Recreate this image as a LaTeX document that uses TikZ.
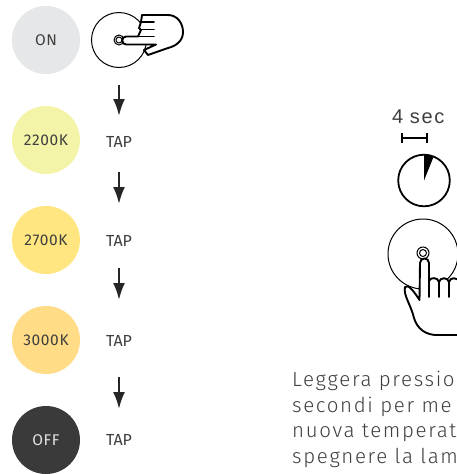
\documentclass[tikz,border=0pt]{standalone}
\usepackage{fontspec}
\setmainfont{Fira Sans}
\newfontfamily\lblfont[LetterSpace=4]{Fira Sans}
\newfontfamily\parafont[LetterSpace=8]{Fira Sans Light}
\newfontfamily\secfont[LetterSpace=8]{Liberation Sans}
\definecolor{txtgray}{HTML}{3F3F3F}
\definecolor{lampon}{HTML}{E6E7E8}
\definecolor{lampa}{HTML}{F3F4A8}
\definecolor{lampb}{HTML}{FFE680}
\definecolor{lampc}{HTML}{FFDC85}
\definecolor{lampoff}{HTML}{3A3A3A}
\usetikzlibrary{arrows.meta}
\tikzset{
  lamp/.style={circle,minimum size=68pt,inner sep=0pt,text=txtgray,font=\lblfont\fontsize{15.5}{17}\selectfont},
  taplabel/.style={text=txtgray,inner sep=0pt,font=\fontsize{16}{18}\selectfont},
  flow/.style={-{Latex[length=17pt,width=12pt]},line width=2.2pt,black!85},
  hand/.style={draw=black,line width=1.9pt,fill=white,line join=round,line cap=round},
  thin disc/.style={draw=black,line width=1pt},
  paraline/.style={anchor=base west,inner sep=0pt,text=txtgray,font=\parafont\fontsize{20.5}{22}\selectfont}
}
\begin{document}
\begin{tikzpicture}[x=1pt,y=-1pt]
\useasboundingbox (0,0) rectangle (457,474);
\clip (0,0) rectangle (457,474);
\fill[white] (0,0) rectangle (457,474);
\node[lamp,fill=lampon] (on) at (46,40) {ON};
\node[lamp,fill=lampa] (k22) at (46,140) {2200K};
\node[lamp,fill=lampb] (k27) at (46,240) {2700K};
\node[lamp,fill=lampc] (k30) at (46,340) {3000K};
\node[lamp,fill=lampoff,text=white!90!black] (off) at (46,440) {OFF};
\node[taplabel] (t1) at (119,142) {TAP};
\node[taplabel] (t2) at (119,241) {TAP};
\node[taplabel] (t3) at (119,341) {TAP};
\node[taplabel] (t4) at (119,440) {TAP};
\coordinate (a0s) at (119,85); \coordinate (a0e) at (119,116);
\coordinate (a1s) at (119,172); \coordinate (a1e) at (119,204);
\coordinate (a2s) at (119,268); \coordinate (a2e) at (119,300);
\coordinate (a3s) at (119,377); \coordinate (a3e) at (119,409);
\draw[flow] (a0s) -- (a0e);
\draw[flow] (a1s) -- (a1e);
\draw[flow] (a2s) -- (a2e);
\draw[flow] (a3s) -- (a3e);
% disc and pointing hand (top)
\draw[thin disc] (119,40) circle (27.5);
\draw[thin disc] (119,40) circle (5);
\draw[thin disc] (119,40) circle (3);
\draw[hand] (142,15) -- (168,15) .. controls (177,15) and (183,23) .. (183,32)
  .. controls (183,41) and (176,46) .. (168,48) -- (148,55) -- (144,50) -- (156,44.5) -- (126,44.5)
  .. controls (121,44.5) and (121,36.5) .. (126,36.5) -- (138,36.5) -- (141,30) -- (139,28) -- (141,22) -- (142,15) -- cycle;
\draw[hand] (141,22) -- (154,22) (141,29.5) -- (154,29.5) (138,36.5) -- (154,36.5);
% 4 sec
\node[anchor=base west,inner sep=0pt,text=txtgray,font=\secfont\fontsize{20}{22}\selectfont] (sec) at (392,123) {4\,\,sec};
\coordinate (b1) at (402,138); \coordinate (b2) at (427,138);
\draw[line width=2.6pt] (b1) -- (b2);
\draw[line width=2.6pt] (402,133) -- (402,143) (427,133) -- (427,143);
\draw[line width=1.8pt] (424,180.5) circle (25.8);
\fill[black] (424,180.5) -- (424,155) arc (-90:-68:25.5) -- cycle;
% disc and raised hand
\draw[thin disc] (423,254) circle (35);
\draw[thin disc] (423,253) circle (6);
\draw[thin disc] (423,253) circle (3.5);
\draw[hand] (420,263) .. controls (420,257) and (429,257) .. (429,263) -- (429,281)
  .. controls (430,277) and (438,277) .. (439,282)
  .. controls (440,277) and (448,277) .. (449,282)
  .. controls (450,277) and (457,277) .. (460,282) -- (460,335) -- (440,335) .. controls (425,336) and (417,328) .. (414,318)
  .. controls (411,305) and (403,295) .. (405,287)
  .. controls (408,283) and (415,293) .. (419.5,300) -- cycle;
\draw[hand] (429,278) -- (429,297) (439,282) -- (439,297) (449,282) -- (449,297);
% paragraph
\node[paraline] (p1) at (292,386) {Leggera pressio};
\node[paraline] (p2) at (292,412) {secondi per me};
\node[paraline] (p3) at (292,437) {nuova temperat};
\node[paraline] (p4) at (292,463) {spegnere la lam};
\end{tikzpicture}
\end{document}
